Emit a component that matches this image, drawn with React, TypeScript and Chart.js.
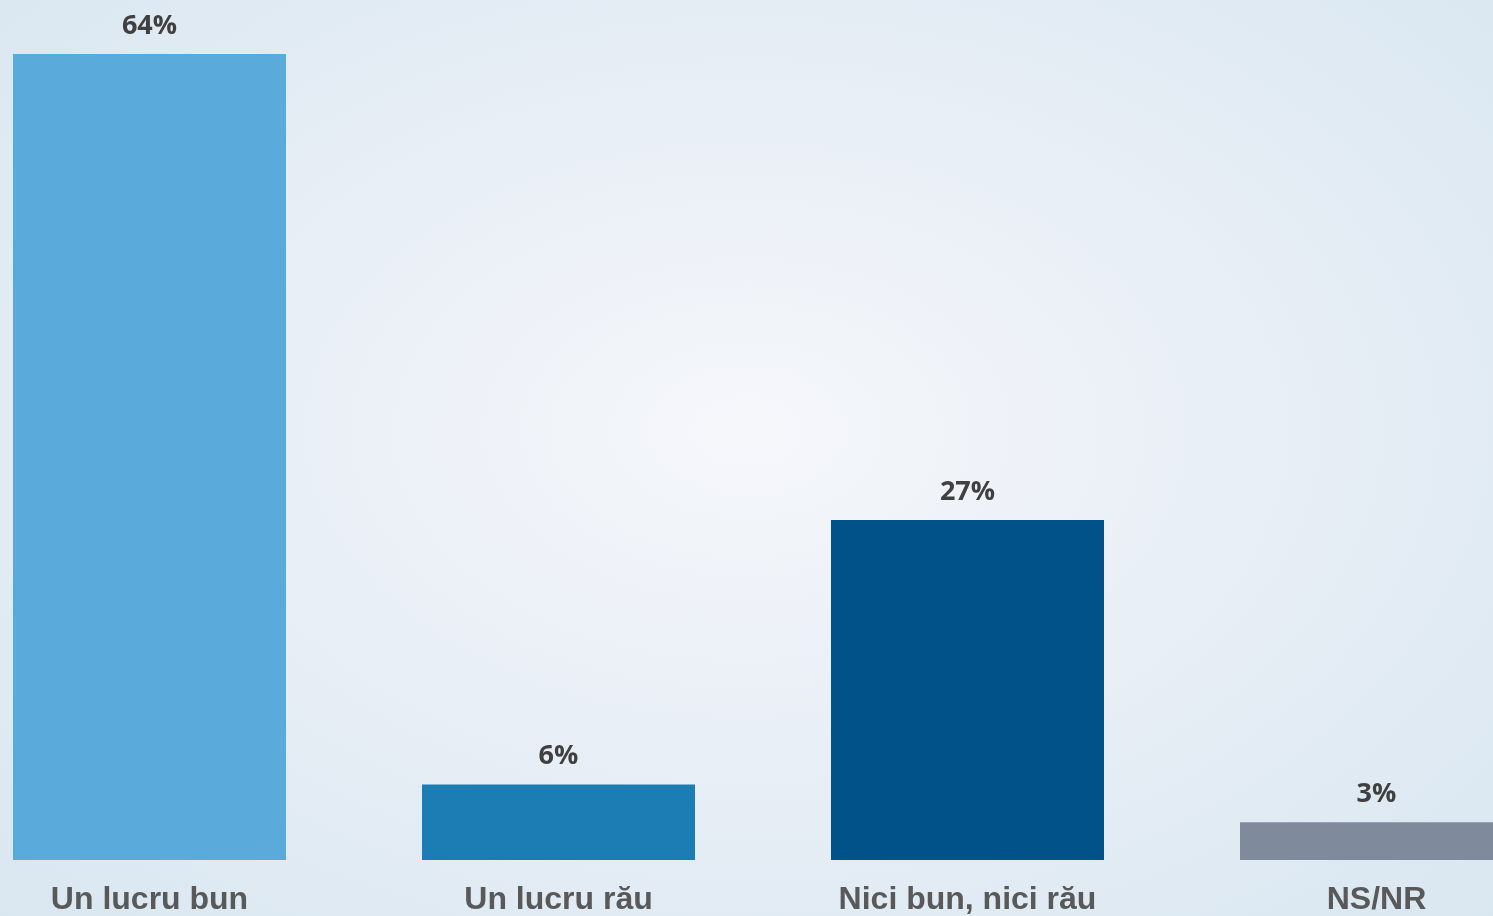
import React, { useEffect, useRef } from "react";
import { Chart, registerables } from "chart.js";

Chart.register(...registerables);

const categories = ["Un lucru bun", "Un lucru rău", "Nici bun, nici rău", "NS/NR"];
const values = [64, 6, 27, 3];
const barColors = ["#5aaadb", "#1b7db4", "#005288", "#7f8a9c"];

const valueLabels = {
  id: "valueLabels",
  afterDatasetsDraw(chart: any) {
    const ctx = chart.ctx;
    const meta = chart.getDatasetMeta(0);
    ctx.save();
    ctx.font = "bold 27px 'Open Sans'";
    ctx.fillStyle = "#404040";
    ctx.textAlign = "center";
    ctx.textBaseline = "middle";
    meta.data.forEach((bar: any, i: number) => {
      ctx.fillText(values[i] + "%", bar.x, bar.y - 28);
    });
    ctx.restore();
  },
};

export default function App() {
  const ref = useRef<HTMLCanvasElement>(null);
  useEffect(() => {
    if (!ref.current) return;
    const chart = new Chart(ref.current, {
      type: "bar",
      data: {
        labels: categories,
        datasets: [
          {
            data: values,
            backgroundColor: barColors,
            borderWidth: 0,
            categoryPercentage: 1,
            barPercentage: 0.6675,
          },
        ],
      },
      options: {
        animation: false,
        responsive: false,
        maintainAspectRatio: false,
        layout: { padding: 0 },
        plugins: { legend: { display: false }, tooltip: { enabled: false } },
        scales: {
          x: {
            grid: { display: false, drawTicks: false },
            border: { display: false },
            ticks: {
              color: "#595959",
              font: { family: "'Liberation Sans', Arial", size: 32, weight: "bold" },
              padding: 21,
              maxRotation: 0,
              autoSkip: false,
            },
            afterFit: (scale: any) => {
              scale.height = 56;
            },
          },
          y: {
            display: false,
            min: 0,
            max: 68.29,
          },
        },
      },
      plugins: [valueLabels],
    });
    return () => chart.destroy();
  }, []);

  return (
    <div
      style={{
        position: "fixed",
        left: 0,
        top: 0,
        width: 1493,
        height: 916,
        overflow: "hidden",
        background: "radial-gradient(ellipse at 50% 47%, #f5f7fb 0%, #e9eff6 45%, #d9e7f1 100%)",
      }}
    >
      <canvas
        ref={ref}
        width={1636}
        height={916}
        style={{ position: "absolute", left: -55, top: 0, width: 1636, height: 916 }}
      />
    </div>
  );
}
